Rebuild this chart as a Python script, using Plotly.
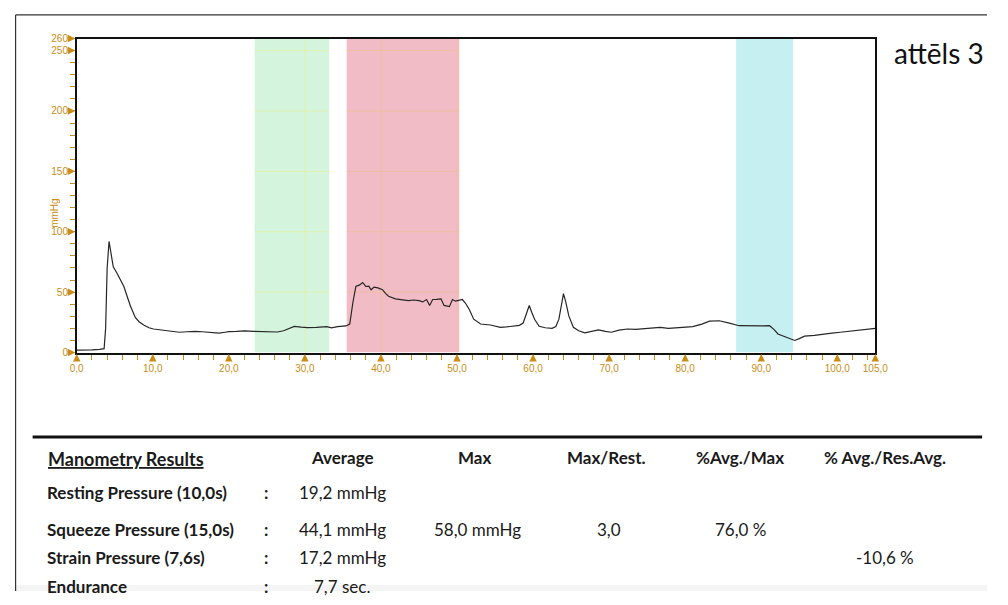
import plotly.graph_objects as go

# ---- data ----
time_s = [0, 1, 2, 3, 3.6, 3.8, 4.0, 4.25, 4.5, 4.8, 5.3, 5.8, 6.2, 6.6, 7.06, 7.7, 8.2, 8.8, 9.5, 10.1,
          11.35, 12.5, 13.5, 14.5, 15.6, 16.5, 17.8, 18.7, 19.5, 20, 21, 22.1, 23.2, 24.3, 25.3, 26.4,
          27.2, 27.7, 28.6, 29.5, 30.3, 31.5, 32.9, 33.5, 34.3, 35.4, 35.9, 36.3, 36.7, 37.2, 37.6, 38.0,
          38.4, 38.7, 39.1, 39.6, 40.2, 40.6, 41.0, 41.9, 42.7, 43.6, 44.3, 45.0, 45.5, 46.0, 46.4, 46.8,
          47.3, 47.9, 48.3, 49.0, 49.4, 49.8, 50.1, 50.7, 51.1, 51.6, 52.2, 53.1, 54.4, 55.2, 55.7, 56.5,
          57.4, 58.2, 58.7, 59.1, 59.5, 59.85, 60.2, 60.8, 61.6, 62.5, 63.0, 63.4, 63.7, 64.0, 64.3, 64.7,
          65.3, 66.0, 66.8, 67.7, 68.6, 69.5, 70.3, 71.3, 72.4, 73.5, 74.6, 75.6, 76.7, 77.8, 78.9, 80.0,
          81.0, 82.2, 83.2, 84.5, 85.2, 85.8, 87.1, 88.2, 89.2, 90.2, 91.1, 91.7, 92.2, 93.3, 94.4, 95.0,
          95.7, 97.0, 98.2, 99.3, 100.4, 101.5, 102.5, 103.6, 104.7, 105]
pressure = [2, 1.8, 2.2, 2.6, 3.2, 20, 70, 92, 82, 71, 65.6, 60, 54.7, 47, 38.5, 29, 25.5, 22.8, 20.5, 19.5,
            18.7, 17.5, 16.8, 17.2, 17.6, 17.2, 16.8, 16, 16.8, 17.3, 17.5, 17.9, 17.6, 17.6, 17.0, 17,
            18, 19.5, 21.7, 21, 20.6, 20.8, 21.4, 20.5, 21.5, 22, 23.6, 41, 54.7, 56, 58, 54.7,
            55, 52, 54.2, 53.5, 52, 49, 46.6, 44.4, 43.5, 43, 43.5, 43, 41.9, 43.9, 39, 43.9,
            44, 44.4, 39, 38, 43.9, 42.5, 43, 43.9, 41, 35.8, 27.6, 23.6, 22.8, 21.8, 20.9, 21.2,
            22.2, 22.5, 24.4, 32, 39, 33, 27.6, 21.7, 20.5, 20, 21.5, 27.6, 40, 48.8, 42, 30.3,
            20.9, 18, 16.3, 17.5, 18.7, 17.5, 16.8, 18.5, 19.5, 19.2, 20, 20.5, 20.9, 20, 20.3, 21,
            21.4, 23.5, 26, 26.3, 25.5, 24.4, 22.2, 22, 21.7, 22, 22.2, 19, 15.4, 12.5, 10, 11.5,
            13.6, 14.2, 14.9, 16, 16.8, 17.5, 18.7, 19, 20, 20]

region_starts = [23.4, 35.5, 86.7]
region_ends = [33.2, 50.3, 94.2]
region_colors = ["#d5f4de", "#f1bcc6", "#c6eff2"]
region_grid_colors = ["rgba(228,240,160,0.8)", "rgba(240,190,150,0.8)", "rgba(0,0,0,0)"]

x_tick_vals = [0, 10, 20, 30, 40, 50, 60, 70, 80, 90, 100, 105]
x_tick_text = ["0,0", "10,0", "20,0", "30,0", "40,0", "50,0", "60,0", "70,0", "80,0", "90,0", "100,0", "105,0"]
y_tick_vals = [0, 50, 100, 150, 200, 250, 260]
y_tick_text = ["0", "50", "100", "150", "200", "250", "260"]

header_cols = ["Average", "Max", "Max/Rest.", "%Avg./Max", "% Avg./Res.Avg."]
row_labels = ["Resting Pressure (10,0s)", "Squeeze Pressure (15,0s)", "Strain Pressure (7,6s)", "Endurance"]
avg_vals = ["19,2 mmHg", "44,1 mmHg", "17,2 mmHg", "7,7 sec."]
max_vals = ["", "58,0 mmHg", "", ""]
max_rest_vals = ["", "3,0", "", ""]
avg_max_vals = ["", "76,0 %", "", ""]
avg_res_vals = ["", "", "-10,6 %", ""]

# ---- layout geometry ----
# The page body keeps its default 8px margin, so the figure is sized to fit the window exactly.
PAGE_W, PAGE_H, OFF = 1008, 605, 8
W, H = PAGE_W - 2 * OFF, PAGE_H - 2 * OFF
ORANGE = "#c98d16"
px_l, px_r, px_t, px_b = 71, 886, 34, 354


def fx(px):
    return (px - OFF) / W


def fy(py):
    return 1 - (py - OFF) / H


fig = go.Figure()
fig.add_trace(go.Scatter(x=time_s, y=pressure, mode="lines",
                         line=dict(color="#262626", width=1.2), hoverinfo="skip", showlegend=False))

shapes = []
shapes.append(dict(type="rect", xref="paper", yref="paper", x0=fx(9), x1=1.0, y0=0, y1=fy(591),
                   fillcolor="#f4f4f4", line=dict(width=0), layer="below"))
for s, e, c, gc in zip(region_starts, region_ends, region_colors, region_grid_colors):
    shapes.append(dict(type="rect", xref="x", yref="y", x0=s, x1=e, y0=0, y1=260,
                       fillcolor=c, line=dict(width=0), layer="below"))
    for yv in y_tick_vals[1:-1]:
        shapes.append(dict(type="line", xref="x", yref="y", x0=s, x1=e, y0=yv, y1=yv,
                           line=dict(color=gc, width=1), layer="below"))
    for xv in x_tick_vals:
        if s < xv < e:
            shapes.append(dict(type="line", xref="x", yref="y", x0=xv, x1=xv, y0=0, y1=260,
                               line=dict(color=gc, width=1), layer="below"))

# outer frame
shapes.append(dict(type="line", xref="paper", yref="paper", x0=fx(8.6), x1=1.0, y0=fy(10), y1=fy(10),
                   line=dict(color="#333", width=1.2)))
shapes.append(dict(type="line", xref="paper", yref="paper", x0=fx(8.6), x1=fx(8.6), y0=fy(10), y1=0,
                   line=dict(color="#333", width=1.2)))
# table rule
shapes.append(dict(type="line", xref="paper", yref="paper", x0=fx(26), x1=fx(995), y0=fy(440), y1=fy(440),
                   line=dict(color="#111", width=3)))

annotations = []
for xv in x_tick_vals:
    annotations.append(dict(x=xv, y=0, xref="x", yref="y", text="", showarrow=True, arrowhead=2,
                            arrowsize=1, arrowwidth=1.5, arrowcolor=ORANGE, ax=0, ay=8, standoff=1.5))
for yv in y_tick_vals:
    annotations.append(dict(x=0, y=yv, xref="x", yref="y", text="", showarrow=True, arrowhead=2,
                            arrowsize=1, arrowwidth=1.5, arrowcolor=ORANGE, ax=-8, ay=0, standoff=1.5))

annotations.append(dict(x=fx(40), y=fy(195), xref="paper", yref="paper", text="mmHg", showarrow=False,
                        textangle=-90, font=dict(family="Liberation Sans", size=10, color=ORANGE)))
annotations.append(dict(x=fx(903), y=fy(49), xref="paper", yref="paper", text="attēls 3", showarrow=False,
                        xanchor="left", yanchor="middle", font=dict(family="Lato", size=28, color="#111")))

TF = "Lato"
TS = 17
annotations.append(dict(x=fx(40), y=fy(462), xref="paper", yref="paper", text="<b>Manometry Results</b>",
                        showarrow=False, xanchor="left", yanchor="middle",
                        font=dict(family=TF, size=TS + 1, color="#1a1a1a", lineposition="under")))
header_x = [342, 477, 612, 748, 896]
for hx, ht in zip(header_x, header_cols):
    annotations.append(dict(x=fx(hx), y=fy(461), xref="paper", yref="paper", text=f"<b>{ht}</b>",
                            showarrow=False, xanchor="center", yanchor="middle",
                            font=dict(family=TF, size=TS, color="#1a1a1a")))

row_y = [497, 534, 563, 592]
col_x = [342, 480, 614, 748, 896]
for i, (ry, lab) in enumerate(zip(row_y, row_labels)):
    annotations.append(dict(x=fx(40), y=fy(ry), xref="paper", yref="paper", text=f"<b>{lab}</b>",
                            showarrow=False, xanchor="left", yanchor="middle", borderpad=0,
                            font=dict(family=TF, size=TS, color="#1a1a1a")))
    annotations.append(dict(x=fx(264), y=fy(ry), xref="paper", yref="paper", text="<b>:</b>",
                            showarrow=False, xanchor="center", yanchor="middle", borderpad=0,
                            font=dict(family=TF, size=TS, color="#1a1a1a")))
    for cx, vals in zip(col_x, [avg_vals, max_vals, max_rest_vals, avg_max_vals, avg_res_vals]):
        if vals[i]:
            annotations.append(dict(x=fx(cx), y=fy(ry), xref="paper", yref="paper", text=vals[i],
                                    showarrow=False, xanchor="center", yanchor="middle", borderpad=0,
                                    font=dict(family=TF, size=TS, color="#1a1a1a")))

fig.update_layout(
    width=W, height=H, margin=dict(l=0, r=0, t=0, b=0),
    paper_bgcolor="white", plot_bgcolor="white",
    shapes=shapes, annotations=annotations, showlegend=False,
    xaxis=dict(domain=[fx(px_l), fx(px_r)], range=[0, 105], showgrid=False, zeroline=False,
               showline=True, linecolor="#111", linewidth=2, mirror=True,
               ticks="outside", ticklen=5, tickwidth=1, tickcolor=ORANGE,
               tickvals=x_tick_vals, ticktext=x_tick_text,
               tickfont=dict(family="Liberation Sans", size=10, color=ORANGE),
               minor=dict(dtick=2, tick0=0, ticks="outside", ticklen=5, tickcolor=ORANGE, showgrid=False)),
    yaxis=dict(domain=[fy(px_b), fy(px_t)], range=[0, 260], showgrid=False, zeroline=False,
               showline=True, linecolor="#111", linewidth=1.5, mirror=True,
               ticks="outside", ticklen=5, tickwidth=1, tickcolor=ORANGE,
               tickvals=y_tick_vals, ticktext=y_tick_text,
               tickfont=dict(family="Liberation Sans", size=10, color=ORANGE),
               minor=dict(dtick=10, tick0=0, ticks="outside", ticklen=5, tickcolor=ORANGE, showgrid=False)),
)

fig.write_html("out.html", config={"displayModeBar": False})
